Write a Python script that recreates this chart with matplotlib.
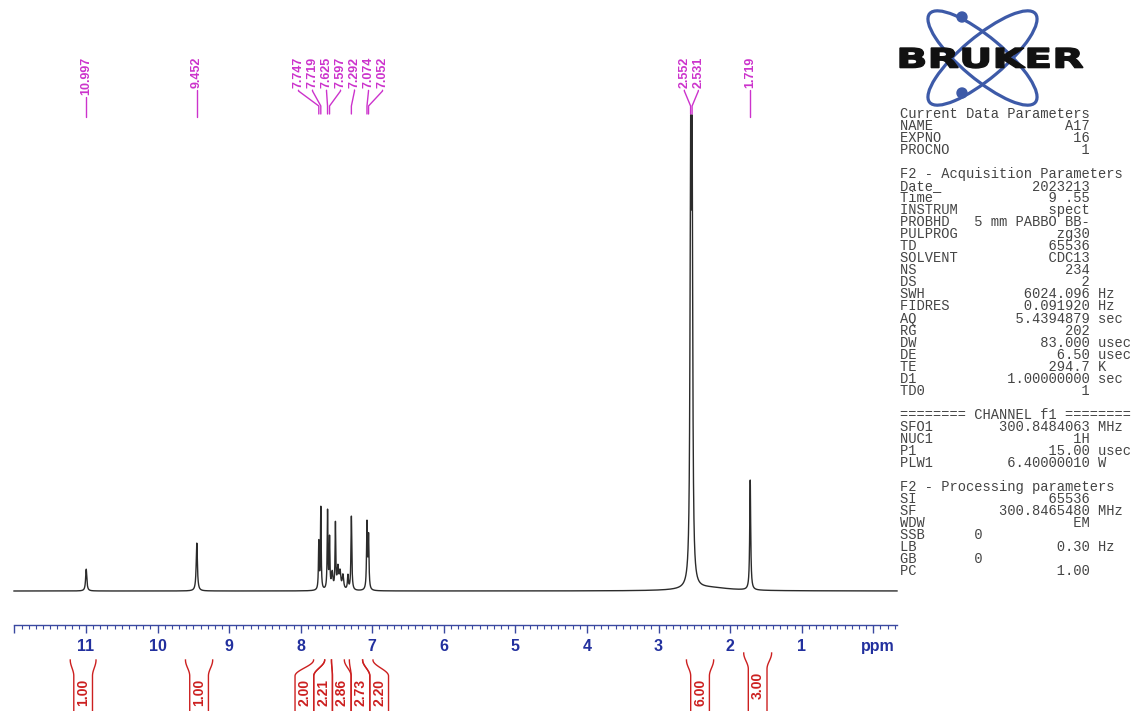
import numpy as np
import matplotlib
matplotlib.use("Agg")
import matplotlib.pyplot as plt
from matplotlib.patches import Ellipse, Circle, PathPatch
from matplotlib.textpath import TextPath
from matplotlib.font_manager import FontProperties
from matplotlib.ticker import MultipleLocator
import matplotlib.transforms as mtransforms

# ---------------- data ----------------
peak_ppm    = [10.997, 9.452, 7.747, 7.719, 7.625, 7.597, 7.560, 7.515, 7.480, 7.450, 7.410, 7.340, 7.292, 7.074, 7.052, 2.552, 2.531, 2.300, 1.719]
peak_height = [0.046, 0.101, 0.100, 0.173, 0.165, 0.105, 0.035, 0.137, 0.045, 0.035, 0.030, 0.030, 0.156, 0.139, 0.110, 0.840, 0.840, 0.007, 0.232]
peak_hwhm   = [0.010, 0.010, 0.006, 0.006, 0.006, 0.006, 0.012, 0.006, 0.012, 0.012, 0.012, 0.008, 0.007, 0.007, 0.007, 0.010, 0.010, 0.350, 0.008]

label_ppm = [10.997, 9.452, 7.747, 7.719, 7.625, 7.597, 7.292, 7.074, 7.052, 2.552, 2.531, 1.719]

integral_start = [11.22, 9.61, 7.82, 7.665, 7.57, 7.32, 7.135, 2.61, 1.81]
integral_end   = [10.86, 9.23, 7.665, 7.57, 7.39, 7.135, 6.99, 2.23, 1.42]
integral_value = ["1.00", "1.00", "2.00", "2.21", "2.86", "2.73", "2.20", "6.00", "3.00"]

x_major = list(range(0, 13))
x_labels = [str(v) if 1 <= v <= 11 else "" for v in x_major]

param_rows = [
    ("Current Data Parameters",),
    ("NAME", "A17"), ("EXPNO", "16"), ("PROCNO", "1"),
    (),
    ("F2 - Acquisition Parameters",),
    ("Date_", "2023213"), ("Time", "9 .55"), ("INSTRUM", "spect"),
    ("PROBHD", "5 mm PABBO BB-"), ("PULPROG", "zg30"), ("TD", "65536"),
    ("SOLVENT", "CDC13"), ("NS", "234"), ("DS", "2"),
    ("SWH", "6024.096", "Hz"), ("FIDRES", "0.091920", "Hz"),
    ("AQ", "5.4394879", "sec"), ("RG", "202"), ("DW", "83.000", "usec"),
    ("DE", "6.50", "usec"), ("TE", "294.7", "K"), ("D1", "1.00000000", "sec"),
    ("TD0", "1"),
    (),
    ("======== CHANNEL f1 ========",),
    ("SFO1", "300.8484063", "MHz"), ("NUC1", "1H"), ("P1", "15.00", "usec"),
    ("PLW1", "6.40000010", "W"),
    (),
    ("F2 - Processing parameters",),
    ("SI", "65536"), ("SF", "300.8465480", "MHz"), ("WDW", "EM"),
    ("SSB      0",), ("LB", "0.30", "Hz"), ("GB       0",), ("PC", "1.00"),
]

# ---------------- layout ----------------
W, H = 1134, 711
BLUE = "#22309e"
MAG = "#cc33cc"
RED = "#cc2020"
LOGO = "#3d5aa8"

fig = plt.figure(figsize=(W / 100, H / 100), dpi=100)
fig.patch.set_facecolor("white")

ax_l, ax_r, ax_b, ax_t = 14, 897, 625, 30
base_px, top_px = 591, 117
unit = base_px - top_px
ax = fig.add_axes([ax_l / W, 1 - ax_b / H, (ax_r - ax_l) / W, (ax_b - ax_t) / H])
ax.set_xlim(12.006, -0.332)
ax.set_ylim(-(ax_b - base_px) / unit, (base_px - ax_t) / unit)
ax.patch.set_visible(False)
for s in ("top", "left", "right"):
    ax.spines[s].set_visible(False)
ax.spines["bottom"].set_color("#3a48a0")
ax.spines["bottom"].set_linewidth(1.0)
ax.set_yticks([])
ax.set_xticks(x_major, x_labels, fontweight="bold", fontfamily="Liberation Sans")
ax.xaxis.set_minor_locator(MultipleLocator(0.1))
ax.tick_params(axis="x", which="major", direction="out", length=6, width=1,
               color="#3a48a0", labelcolor=BLUE, labelsize=11.5, pad=4)
ax.tick_params(axis="x", which="minor", direction="out", length=3, width=0.8,
               color="#3a48a0")

# spectrum
x = np.linspace(12.006, -0.332, 24000)
y = np.zeros_like(x)
for c, h, w in zip(peak_ppm, peak_height, peak_hwhm):
    y += h / (1 + ((x - c) / w) ** 2)
ax.plot(x, y, color="#2b2b2b", lw=1.0, clip_on=False)

# overlay axes in pixel coordinates
ov = fig.add_axes([0, 0, 1, 1])
ov.set_xlim(0, W)
ov.set_ylim(H, 0)
ov.axis("off")
ov.patch.set_visible(False)

ov.text(878, 646, "ppm", ha="center", va="center", color=BLUE, fontsize=11.5,
        fontweight="bold", fontfamily="Liberation Sans")


def px(ppm):
    return ax.transData.transform((ppm, 0))[0]


def spread(centers, gap, iters=400):
    c = list(centers)
    order = np.argsort(c)
    c = [c[i] for i in order]
    for _ in range(iters):
        moved = False
        for i in range(len(c) - 1):
            d = c[i + 1] - c[i]
            if d < gap - 1e-6:
                push = (gap - d) / 2
                c[i] -= push
                c[i + 1] += push
                moved = True
        if not moved:
            break
    out = [0] * len(c)
    for k, i in enumerate(order):
        out[i] = c[k]
    return out


# peak labels
peak_px = [px(v) for v in label_ppm]
lab_px = spread(peak_px, 14.0)
texts = []
for lx, v in zip(lab_px, label_ppm):
    t = ov.text(lx, 57, f"{v:.3f}", rotation=90, ha="center", va="top",
                color=MAG, fontsize=9, fontweight="bold", fontfamily="Liberation Sans")
    texts.append(t)
fig.canvas.draw()
r = fig.canvas.get_renderer()
for t, lx, pxx in zip(texts, lab_px, peak_px):
    bb = t.get_window_extent(r)
    ybot = H - bb.y0 + 2
    ys = [ybot]
    xs = [lx]
    if abs(lx - pxx) > 0.5:
        y1 = max(ybot, 91)
        xs += [lx, pxx, pxx]
        ys += [y1, 106, 114]
    else:
        xs += [lx]
        ys += [117]
    ov.plot(xs, ys, color=MAG, lw=1.0, solid_capstyle="round")

# integrals
int_l = [px(v) for v in integral_start]
int_r = [px(v) for v in integral_end]
centers = [(a + b) / 2 for a, b in zip(int_l, int_r)]
lab_c = spread(centers, 18.7)
label_dy = [0, 0, 0, 0, 0, 0, 0, 0, -7]
half = 9.35
tt = np.linspace(0, 1, 30)
for a, b, c, val, dy in zip(int_l, int_r, lab_c, integral_value, label_dy):
    ytop, ymid = 660 + dy, 676 + dy
    for xt, xc in ((a, c - half), (b, c + half)):
        xs = list(xt + (xc - xt) * (0.5 - 0.5 * np.cos(np.pi * tt))) + [xc]
        ys = list(ytop + (ymid - ytop) * tt) + [H + 5]
        ov.plot(xs, ys, color=RED, lw=1.0, clip_on=False)
    ov.text(c, 692 + dy, val, rotation=90, ha="center", va="center",
            color=RED, fontsize=10, fontweight="bold", fontfamily="Liberation Sans")

# Bruker logo
for ang in (40, -40):
    ov.add_patch(Ellipse((982.5, 58), 138, 42, angle=ang, fill=False,
                         ec=LOGO, lw=2.3))
ov.add_patch(Circle((962, 17), 5, color=LOGO))
ov.add_patch(Circle((962, 93), 5, color=LOGO))
tp = TextPath((0, 0), "BRUKER", size=100,
              prop=FontProperties(family="DejaVu Sans", weight="bold"))
ext = tp.get_extents()
trans = (mtransforms.Affine2D().translate(-ext.x0, -ext.y0)
         .scale(183 / ext.width, -20 / ext.height).translate(900, 68))
ov.add_patch(PathPatch(trans.transform_path(tp), fc="#111111", ec="#111111",
                       lw=1.0, zorder=5))

# parameter block
y0, dy_line = 114, 12.03
for i, row in enumerate(param_rows):
    if not row:
        continue
    if len(row) == 1:
        line = row[0]
    else:
        line = row[0] + row[1].rjust(23 - len(row[0]))
        if len(row) == 3:
            line += " " + row[2]
    ov.text(900, y0 + i * dy_line, line, ha="left", va="center",
            fontfamily="Liberation Mono", fontsize=9.9, color="#444444")

fig.savefig("out.png", dpi=100)
